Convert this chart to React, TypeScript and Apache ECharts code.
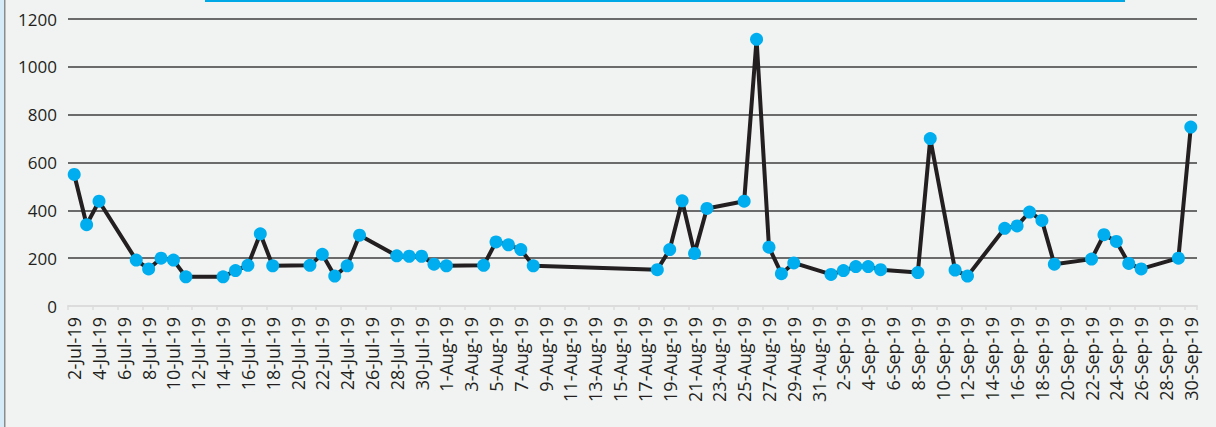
import React, { useEffect, useRef } from "react";
import * as echarts from "echarts";

const obsDates = [
  "2-Jul-19", "3-Jul-19", "4-Jul-19", "7-Jul-19", "8-Jul-19", "9-Jul-19", "10-Jul-19", "11-Jul-19",
  "14-Jul-19", "15-Jul-19", "16-Jul-19", "17-Jul-19", "18-Jul-19", "21-Jul-19", "22-Jul-19", "23-Jul-19",
  "24-Jul-19", "25-Jul-19", "28-Jul-19", "29-Jul-19", "30-Jul-19", "31-Jul-19", "1-Aug-19", "4-Aug-19",
  "5-Aug-19", "6-Aug-19", "7-Aug-19", "8-Aug-19", "18-Aug-19", "19-Aug-19", "20-Aug-19", "21-Aug-19",
  "22-Aug-19", "25-Aug-19", "26-Aug-19", "27-Aug-19", "28-Aug-19", "29-Aug-19", "1-Sep-19", "2-Sep-19",
  "3-Sep-19", "4-Sep-19", "5-Sep-19", "8-Sep-19", "9-Sep-19", "11-Sep-19", "12-Sep-19", "15-Sep-19",
  "16-Sep-19", "17-Sep-19", "18-Sep-19", "19-Sep-19", "22-Sep-19", "23-Sep-19", "24-Sep-19", "25-Sep-19",
  "26-Sep-19", "29-Sep-19", "30-Sep-19",
];
const obsValues = [
  550, 340, 438, 192, 155, 200, 192, 122,
  122, 148, 170, 302, 168, 170, 216, 125,
  168, 296, 210, 208, 208, 175, 168, 170,
  268, 256, 236, 168, 152, 236, 440, 220,
  408, 438, 1115, 246, 135, 180, 132, 148,
  165, 165, 152, 140, 700, 150, 125, 325,
  335, 393, 358, 175, 196, 298, 270, 178,
  155, 200, 748,
];

// Axis range: every day from 2-Jul-19 to 30-Sep-19
const months = [
  { name: "Jul", first: 2, last: 31 },
  { name: "Aug", first: 1, last: 31 },
  { name: "Sep", first: 1, last: 30 },
];
const yTicks = { min: 0, max: 1200, interval: 200 };

const categories: string[] = [];
months.forEach((m) => {
  for (let d = m.first; d <= m.last; d++) categories.push(`${d}-${m.name}-19`);
});

export default function App() {
  const ref = useRef<HTMLDivElement>(null);
  useEffect(() => {
    document.body.style.margin = "0";
    if (!ref.current) return;
    const chart = echarts.init(ref.current, null, { renderer: "svg" });
    const lookup: Record<string, number> = {};
    obsDates.forEach((d, i) => (lookup[d] = obsValues[i]));
    const seriesData = categories.map((c) => (c in lookup ? lookup[c] : null));
    const gridColor = "#6b6b6b";
    chart.setOption({
      animation: false,
      backgroundColor: "#f1f3f2",
      grid: { left: 68, right: 19, top: 19, bottom: 121, containLabel: false },
      graphic: [
        { type: "rect", shape: { x: 0, y: 0, width: 4, height: 427 }, style: { fill: "#d5ebf8" } },
        { type: "rect", shape: { x: 4, y: 0, width: 1.5, height: 427 }, style: { fill: "#8c8c8c" } },
        { type: "rect", shape: { x: 205, y: 0, width: 920, height: 2 }, style: { fill: "#00a9e6" } },
      ],
      xAxis: {
        type: "category",
        data: categories,
        boundaryGap: true,
        axisLine: { show: true, lineStyle: { color: "#dcdcdc", width: 2 } },
        axisTick: { show: true, interval: 1, length: 4, lineStyle: { color: "#dcdcdc", width: 1.5 } },
        axisLabel: {
          interval: 1,
          rotate: 90,
          margin: 11,
          fontSize: 18,
          fontFamily: "Open Sans",
          color: "#231f20",
        },
        splitLine: { show: false },
      },
      yAxis: {
        type: "value",
        min: yTicks.min,
        max: yTicks.max,
        interval: yTicks.interval,
        axisLine: { show: false },
        axisTick: { show: false },
        axisLabel: {
          margin: 11,
          fontSize: 17,
          fontFamily: "Open Sans",
          color: "#231f20",
          formatter: (v: number) => String(v),
        },
        splitLine: {
          show: true,
          lineStyle: {
            color: ["#dcdcdc", gridColor, gridColor, gridColor, gridColor, gridColor, gridColor],
            width: 2,
          },
        },
      },
      series: [
        {
          type: "line",
          data: seriesData,
          connectNulls: true,
          symbol: "circle",
          symbolSize: 13,
          showAllSymbol: true,
          lineStyle: { color: "#231f20", width: 4 },
          itemStyle: { color: "#00aeef" },
          z: 3,
        },
      ],
    });
    return () => chart.dispose();
  }, []);
  return <div ref={ref} style={{ width: 1216, height: 427 }} />;
}
